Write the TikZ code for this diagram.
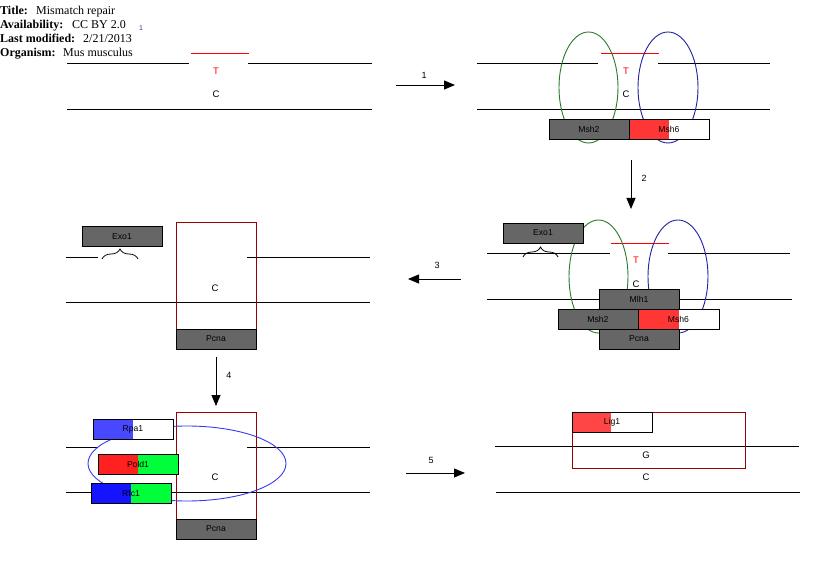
\documentclass[tikz,border=0pt]{standalone}
\usepackage{fontspec}
\setmainfont{Liberation Serif}
\newfontfamily\labfont{Liberation Sans}
\usetikzlibrary{arrows.meta,decorations.pathreplacing}
\definecolor{boxgray}{HTML}{666666}
\definecolor{frame}{HTML}{990000}
\definecolor{ringgreen}{HTML}{2A7A2A}
\definecolor{ringblue}{HTML}{2222A0}
\definecolor{clampblue}{HTML}{3A3AF0}
\definecolor{mred}{HTML}{FF3636}
\definecolor{ligred}{HTML}{FF4646}
\definecolor{rpablue}{HTML}{4848FF}
\definecolor{polred}{HTML}{FF2020}
\definecolor{pgreen}{HTML}{00FF3A}
\definecolor{rfcblue}{HTML}{1414FF}
\definecolor{nblue}{HTML}{333399}
\tikzset{
  strand/.style={line width=0.9pt},
  misline/.style={line width=0.9pt, draw=red},
  ring/.style={line width=0.9pt},
  framebox/.style={line width=0.9pt, draw=frame},
  protein/.style={draw, line width=0.9pt, minimum width=80pt, minimum height=20pt, inner sep=0pt, font=\labfont\fontsize{8.6}{9}\selectfont},
  gbox/.style={protein, fill=boxgray},
  base/.style={font=\labfont\fontsize{9.5}{10}\selectfont, inner sep=0pt},
  redbase/.style={base, text=red},
  steplabel/.style={font=\labfont\fontsize{9}{10}\selectfont, inner sep=0pt},
  steparrow/.style={line width=0.9pt, -{Triangle[length=11pt,width=9pt]}},
  hdr/.style={anchor=base west, inner sep=0pt, font=\fontsize{12}{14}\selectfont},
  brc/.style={decorate, decoration={brace, amplitude=10pt}, line width=0.8pt}
}
\begin{document}
\begin{tikzpicture}[x=1pt,y=-1pt]
\useasboundingbox[fill=white] (0,0) rectangle (830,569);

% header
\node[hdr] (h1) at (0,15) {\textbf{Title:}};
\node[hdr] (v1) at (36,15) {Mismatch repair};
\node[hdr] (h2) at (0,29) {\textbf{Availability:}};
\node[hdr] (v2) at (72,29) {CC BY 2.0};
\node[font=\labfont\fontsize{7}{8}\selectfont, text=nblue, inner sep=0pt] (ref) at (141,28) {1};
\node[hdr] (h3) at (0,43) {\textbf{Last modified:}};
\node[hdr] (v3) at (83,43) {2/21/2013};
\node[hdr] (h4) at (0,57) {\textbf{Organism:}};
\node[hdr] (v4) at (63,57) {Mus musculus};

% ---------- panel 1 ----------
\draw[strand] (67,63) -- (189,63);
\draw[strand] (248,63) -- (372,63);
\draw[misline] (191,53) -- (249,53);
\draw[strand] (67,109) -- (372,109);
\node[redbase] (p1t) at (216,71) {T};
\node[base] (p1c) at (216,94) {C};

% arrow 1
\coordinate (a1s) at (396,85);
\coordinate (a1e) at (455,85);
\draw[steparrow] (a1s) -- (a1e);
\node[steplabel] (l1) at (424,75) {1};

% ---------- panel 2 ----------
\draw[strand] (477,63) -- (598,63);
\draw[strand] (658,63) -- (770,63);
\draw[misline] (601,53) -- (659,53);
\draw[strand] (477,109) -- (770,109);
\node[redbase] (p2t) at (626,71) {T};
\node[base] (p2c) at (626,94) {C};
\draw[ring, draw=ringgreen] (588.5,87.5) ellipse [x radius=29.5, y radius=55.5];
\draw[ring, draw=ringblue] (668,87.5) ellipse [x radius=30, y radius=55.5];
\node[gbox] (p2msh2) at (589,129) {Msh2};
\fill[white] (629,119) rectangle (709,139);
\fill[mred] (629,119) rectangle (669,139);
\node[protein] (p2msh6) at (669,129) {Msh6};

% arrow 2
\coordinate (a2s) at (631,160);
\coordinate (a2e) at (631,209);
\draw[steparrow] (a2s) -- (a2e);
\node[steplabel] (l2) at (644,178) {2};

% ---------- panel 3 ----------
\draw[strand] (487,253) -- (610,253);
\draw[strand] (668,253) -- (790,253);
\draw[misline] (611,243) -- (669,243);
\draw[strand] (487,299) -- (792,299);
\node[redbase] (p3t) at (636,260) {T};
\node[base] (p3c) at (636,284) {C};
\draw[ring, draw=ringgreen] (598.5,276.5) ellipse [x radius=29.5, y radius=56.5];
\draw[ring, draw=ringblue] (678,276.5) ellipse [x radius=30, y radius=56.5];
\node[gbox] (p3exo) at (543,233) {Exo1};
\draw[brc] (523,257) -- (558,257);
\node[gbox] (p3mlh1) at (639,299) {Mlh1};
\node[gbox] (p3msh2) at (598,319) {Msh2};
\fill[white] (638,309) rectangle (719,329);
\fill[mred] (638,309) rectangle (679,329);
\node[protein, minimum width=81pt] (p3msh6) at (678.5,319) {Msh6};
\node[gbox] (p3pcna) at (639,339) {Pcna};

% arrow 3
\coordinate (a3s) at (461,279);
\coordinate (a3e) at (408,279);
\draw[steparrow] (a3s) -- (a3e);
\node[steplabel] (l3) at (437,265) {3};

% ---------- panel 4 ----------
\draw[strand] (66,257) -- (98,257);
\draw[strand] (247,257) -- (370,257);
\draw[strand] (66,302) -- (370,302);
\draw[framebox] (176,222) rectangle (256,329);
\node[base] (p4c) at (215,288) {C};
\node[gbox] (p4exo) at (122,236.5) {Exo1};
\draw[brc] (102,259) -- (138,259);
\node[gbox] (p4pcna) at (216,339) {Pcna};

% arrow 4
\coordinate (a4s) at (216,357);
\coordinate (a4e) at (216,406);
\draw[steparrow] (a4s) -- (a4e);
\node[steplabel] (l4) at (229,375) {4};

% ---------- panel 5 ----------
\draw[strand] (66,447) -- (98,447);
\draw[strand] (247,447) -- (370,447);
\draw[strand] (66,492) -- (370,492);
\draw[framebox] (176,412) rectangle (256,519);
\node[base] (p5c) at (215,477) {C};
\draw[ring, draw=clampblue] (187,463.5) ellipse [x radius=99, y radius=37.5];
\fill[white] (93,419) rectangle (173,439);
\fill[rpablue] (93,419) rectangle (133,439);
\node[protein] (p5rpa) at (133,429) {Rpa1};
\fill[pgreen] (98,454) rectangle (178,474);
\fill[polred] (98,454) rectangle (138,474);
\node[protein] (p5pol) at (138,464) {Pold1};
\fill[pgreen] (91,483) rectangle (171,503);
\fill[rfcblue] (91,483) rectangle (131,503);
\node[protein] (p5rfc) at (131,493) {Rfc1};
\node[gbox] (p5pcna) at (216,529) {Pcna};

% arrow 5
\coordinate (a5s) at (406,473);
\coordinate (a5e) at (465,473);
\draw[steparrow] (a5s) -- (a5e);
\node[steplabel] (l5) at (431,460) {5};

% ---------- panel 6 ----------
\draw[strand] (495,446) -- (799,446);
\draw[strand] (496,492) -- (800,492);
\draw[framebox] (572,412) rectangle (745,468);
\fill[white] (572,412) rectangle (652,432);
\fill[ligred] (572,412) rectangle (611,432);
\node[protein] (p6lig) at (612,422) {Lig1};
\node[base] (p6g) at (646,455) {G};
\node[base] (p6c) at (646,477) {C};
\end{tikzpicture}
\end{document}
